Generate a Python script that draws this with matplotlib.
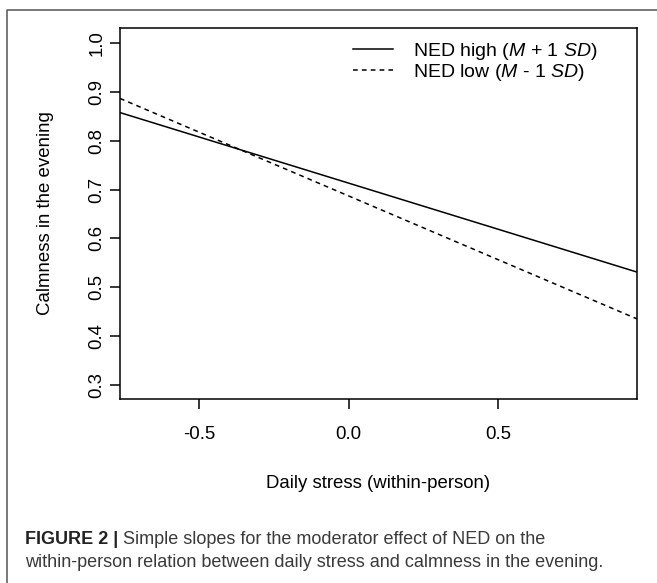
import matplotlib
matplotlib.use("Agg")
import matplotlib.pyplot as plt
from matplotlib.lines import Line2D

# ---- data ----
stress = [-0.765, 0.965]
calm_high = [0.858, 0.531]
calm_low = [0.887, 0.435]
series_labels = [r"NED high ($\mathit{M}$ + 1 $\mathit{SD}$)",
                 r"NED low ($\mathit{M}$ - 1 $\mathit{SD}$)"]
xticks = [-0.5, 0.0, 0.5]
xticklabels = ["-0.5", "0.0", "0.5"]
yticks = [0.3, 0.4, 0.5, 0.6, 0.7, 0.8, 0.9, 1.0]
yticklabels = ["0.3", "0.4", "0.5", "0.6", "0.7", "0.8", "0.9", "1.0"]
xlabel = "Daily stress (within-person)"
ylabel = "Calmness in the evening"
cap_bold = "FIGURE 2 | "
cap_line1 = "Simple slopes for the moderator effect of NED on the"
cap_line2 = "within-person relation between daily stress and calmness in the evening."

plt.rcParams["font.family"] = ["Liberation Sans", "DejaVu Sans"]
plt.rcParams["mathtext.fontset"] = "custom"
plt.rcParams["mathtext.rm"] = "Liberation Sans"
plt.rcParams["mathtext.it"] = "Liberation Sans:italic"

W, H = 657, 583
fig = plt.figure(figsize=(W / 100, H / 100), dpi=100)
ax = fig.add_axes([120 / W, 1 - 399 / H, (637 - 120) / W, (399 - 28) / H])

lw = 1.1
ax.plot(stress, calm_high, color="black", lw=lw, label=series_labels[0])
ax.plot(stress, calm_low, color="black", lw=lw, linestyle=(0, (3.1, 2.7)),
        label=series_labels[1])

ax.set_xlim(-0.765, 0.965)
ax.set_ylim(0.2708, 1.0314)
ax.set_xticks(xticks)
ax.set_xticklabels(xticklabels)
ax.set_yticks(yticks)
ax.set_yticklabels(yticklabels, rotation=90, va="center")
for s in ax.spines.values():
    s.set_linewidth(lw)
    s.set_color("black")
ax.tick_params(axis="both", direction="out", length=7.2, width=lw,
               labelsize=13.4, colors="black")
ax.tick_params(axis="x", pad=12.5)
ax.tick_params(axis="y", pad=3.5)

ax.set_xlabel(xlabel, fontsize=13.4)
ax.xaxis.set_label_coords(0.5, -0.204)
ax.set_ylabel(ylabel, fontsize=13.4)
ax.yaxis.set_label_coords(-0.128, 0.5)

ax.legend(loc="upper left", bbox_to_anchor=(0.45, 0.966), frameon=False,
          fontsize=14, handlelength=2.1, handletextpad=1.0,
          borderpad=0, borderaxespad=0, labelspacing=0.0)

# outer panel border (top and left edges)
fig.add_artist(Line2D([7 / W, 7 / W, 1.0], [0.0, 1 - 10 / H, 1 - 10 / H],
                      transform=fig.transFigure, color="#555555", lw=1.1))

# caption
fig.canvas.draw()
renderer = fig.canvas.get_renderer()
tb = fig.text(25 / W, 1 - 544 / H, cap_bold, fontsize=13, fontweight="bold",
              color="#222222", va="baseline", ha="left")
bb = tb.get_window_extent(renderer=renderer)
fig.text(bb.x1 / W, 1 - 544 / H, cap_line1, fontsize=13, color="#3a3a3a",
         va="baseline", ha="left")
fig.text(25 / W, 1 - 567 / H, cap_line2, fontsize=13, color="#3a3a3a",
         va="baseline", ha="left")

fig.savefig("out.png", dpi=100)
